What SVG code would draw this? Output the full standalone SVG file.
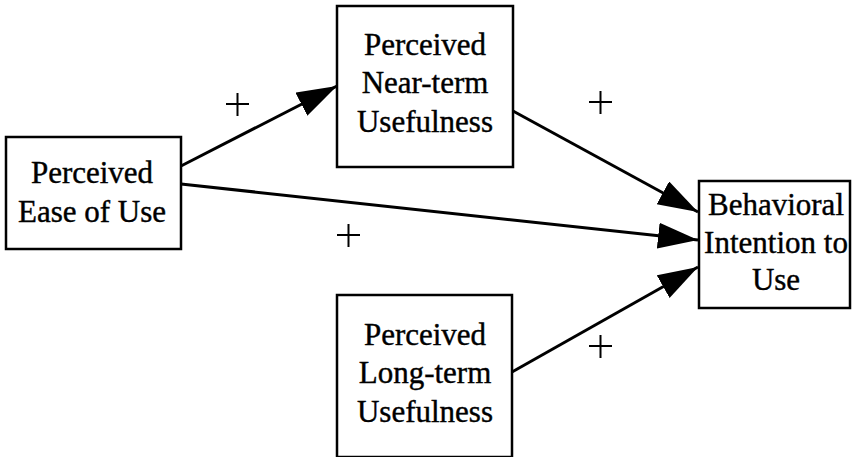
<svg xmlns="http://www.w3.org/2000/svg" width="853" height="457" viewBox="0 0 853 457">
<style>
.box{fill:#fff;stroke:#000;stroke-width:2.5}
.t{font-family:"Liberation Serif","Times New Roman",serif;font-size:31px;fill:#000;stroke:#000;stroke-width:0.4;text-anchor:middle}
.c{stroke:#000;stroke-width:3;fill:none;marker-end:url(#ah)}
.p{stroke:#000;stroke-width:2;fill:none}
</style>
<defs>
<marker id="ah" markerUnits="userSpaceOnUse" markerWidth="42" markerHeight="28" refX="40" refY="13" orient="auto">
<path d="M0,0 L40,13 L0,26 z" fill="#000"/>
</marker>
</defs>
<rect width="853" height="457" fill="#fff"/>
<g id="connectors">
<line class="c" x1="181" y1="166" x2="337" y2="86"/>
<line class="c" x1="513" y1="111" x2="698" y2="212"/>
<line class="c" x1="181" y1="184" x2="698" y2="240"/>
<line class="c" x1="512" y1="372" x2="698" y2="267"/>
<path class="p" d="M226,104 h23 M237.5,93 v23"/>
<path class="p" d="M589,102 h23 M600.5,91 v23"/>
<path class="p" d="M337,235 h23 M348.5,224 v23"/>
<path class="p" d="M589,346 h23 M600.5,335 v23"/>
</g>
<g id="ease">
<rect class="box" x="6" y="137" width="175" height="112"/>
<text class="t" x="92" y="183">Perceived</text>
<text class="t" x="92" y="222">Ease of Use</text>
</g>
<g id="near">
<rect class="box" x="337" y="6" width="176" height="161"/>
<text class="t" x="425" y="55">Perceived</text>
<text class="t" x="425" y="93">Near-term</text>
<text class="t" x="425" y="132">Usefulness</text>
</g>
<g id="long">
<rect class="box" x="337" y="295" width="175" height="162"/>
<text class="t" x="425" y="345">Perceived</text>
<text class="t" x="425" y="383">Long-term</text>
<text class="t" x="425" y="422">Usefulness</text>
</g>
<g id="bi">
<rect class="box" x="699" y="181" width="151" height="127"/>
<text class="t" x="776" y="215">Behavioral</text>
<text class="t" x="776" y="253">Intention to</text>
<text class="t" x="776" y="290">Use</text>
</g>
</svg>
